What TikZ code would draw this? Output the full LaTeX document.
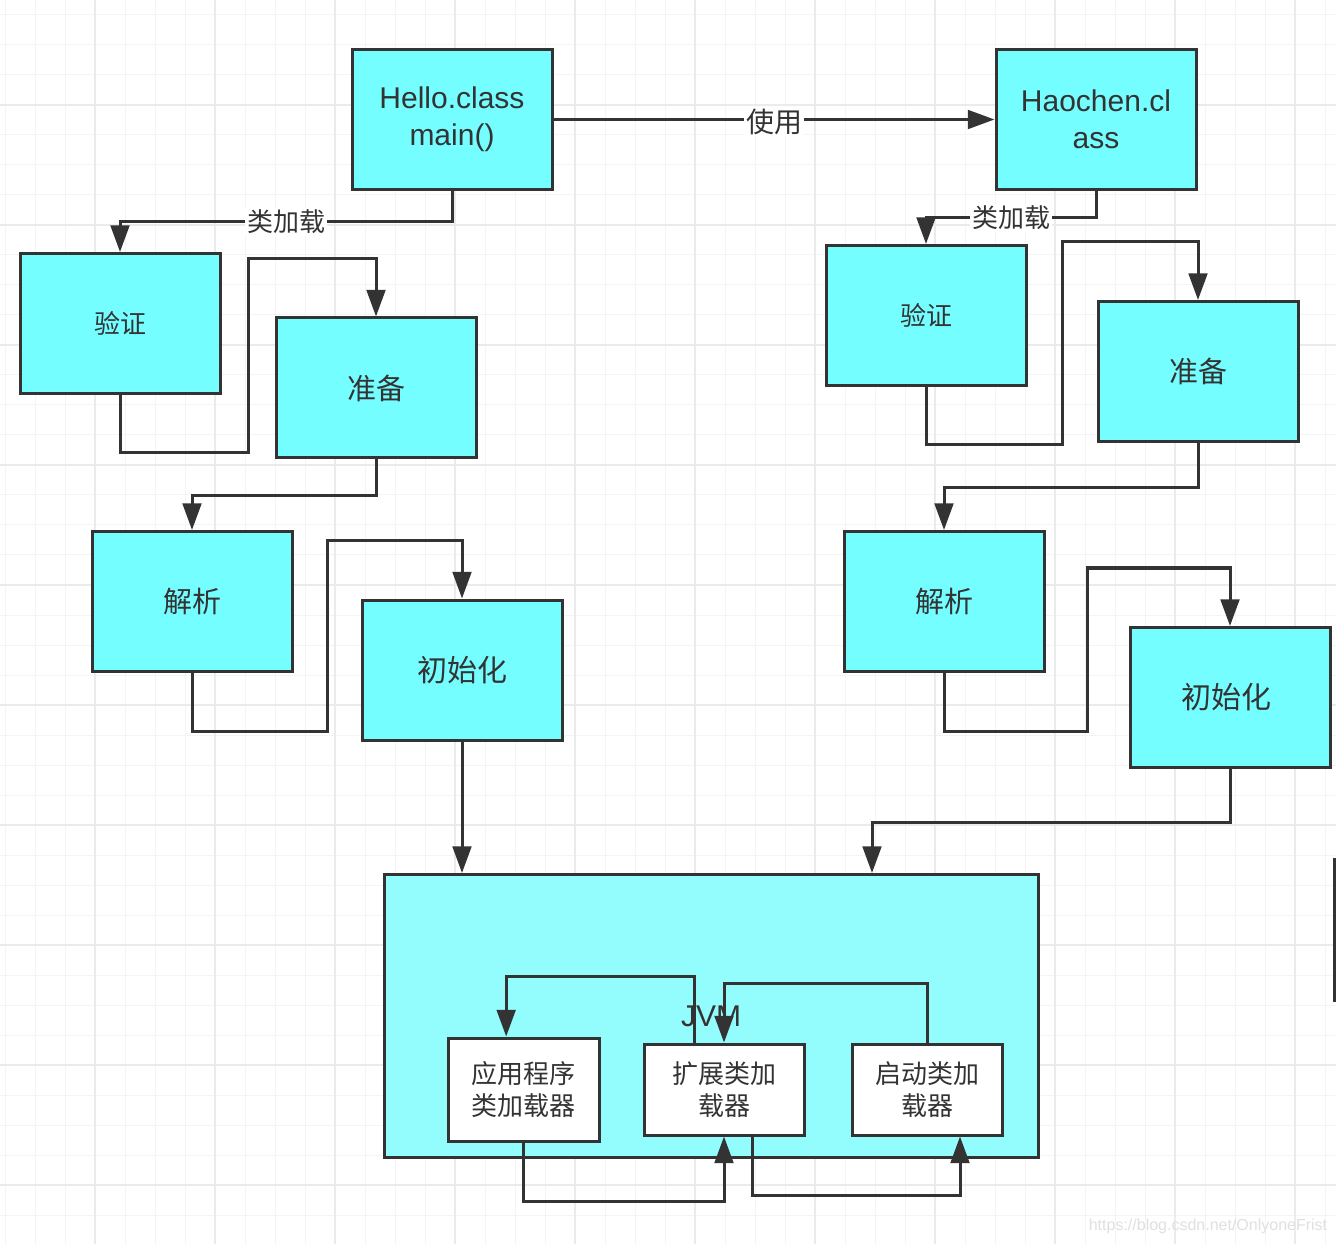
\documentclass[tikz,border=0pt]{standalone}
\usepackage{fontspec}
\setmainfont{Liberation Sans}
\newfontfamily\cjk{Noto Sans CJK SC}
\usepackage{tikz}
\usetikzlibrary{arrows.meta}
\usetikzlibrary{positioning}

\definecolor{linegray}{HTML}{333333}
\definecolor{boxcyan}{HTML}{74FEFF}
\definecolor{jvmcyan}{HTML}{93FCFD}
\definecolor{gridminor}{HTML}{F4F4F4}
\definecolor{gridmajor}{HTML}{EBEBEB}

\begin{document}
\begin{tikzpicture}[
        x=0.75pt, y=-0.75pt,
        >={Triangle[length=20pt, width=14pt]},
        stage/.style={draw=linegray, line width=2.25pt, fill=boxcyan, minimum width=150pt, minimum height=105pt, inner sep=0pt, align=center, text=linegray},
        loader/.style={draw=linegray, line width=2.25pt, fill=white, minimum height=68.25pt, inner sep=0pt, align=center, text=linegray, font=\cjk\fontsize{19.5}{24}\selectfont},
        latin/.style={font=\fontsize{22.5}{27.75}\selectfont},
        zhfont/.style={font=\cjk\fontsize{#1}{28}\selectfont},
        link/.style={->, draw=linegray, line width=2.25pt},
        tag/.style={fill=white, inner sep=1.5pt, text=linegray}
    ]
        % 背景网格
        \fill[white] (0,0) rectangle (1336,1244);
        \useasboundingbox (0,0) rectangle (1336,1244);
        \foreach \x in {5,35,...,1335} {
            \draw[gridminor, line width=0.75pt] (\x,0) -- (\x,1244);
        }
        \foreach \y in {15,45,...,1244} {
            \draw[gridminor, line width=0.75pt] (0,\y) -- (1336,\y);
        }
        \foreach \x in {95,215,...,1336} {
            \draw[gridmajor, line width=0.9pt] (\x,0) -- (\x,1244);
        }
        \foreach \y in {105,225,...,1244} {
            \draw[gridmajor, line width=0.9pt] (0,\y) -- (1336,\y);
        }

        % 两个类
        \node[stage, latin] (hello) at (452,119.5) {\raisebox{-3pt}{Hello.class}\\\raisebox{-3pt}{main()}};
        \node[stage, latin] (haochen) at (1096,119.5) {\raisebox{-1pt}{Haochen.cl}\\\raisebox{-1pt}{ass}};

        % 类加载的各个阶段
        \foreach \name/\x/\y/\fs/\txt in {
            yzL/120/323.5/19.5/验证,
            zbL/376/388/21.75/准备,
            jxL/192/601.5/21.75/解析,
            cshL/462/670/22.5/初始化,
            yzR/926/315.5/19.5/验证,
            zbR/1198/371.5/21.75/准备,
            jxR/944/601.5/21.75/解析,
            cshR/1230/697.5/22.5/初始化
        } {
            \node[stage, zhfont=\fs] (\name) at (\x,\y) {\txt};
        }

        % JVM 与三个类加载器
        \node[draw=linegray, line width=2.25pt, fill=jvmcyan, minimum width=490.5pt, minimum height=212.25pt, text=linegray, font=\fontsize{22.5}{27}\selectfont] (jvm) at (711,1016) {JVM};
        \node[loader, minimum width=113.25pt, minimum height=77.25pt] (yyjz) at (523.5,1089.5) {应用程序\\类加载器};
        \node[loader, minimum width=120pt] (kzjz) at (724,1089.5) {扩展类加\\载器};
        \node[loader, minimum width=112.5pt] (qdjz) at (927,1089.5) {启动类加\\载器};

        % 连线
        \draw[link] (hello.east) -- node[tag, zhfont=21, yshift=-1.5pt] {使用} (haochen.west);

        \draw[link] (hello.south) -- ++(0,31) -| node[tag, zhfont=19.5, pos=0.25] {类加载} (yzL.north);
        \draw[link] (yzL.south) |- (248,453) -- (248,259) -| (zbL.north);
        \draw[link] (zbL.south) -- ++(0,36) -| (jxL.north);
        \draw[link] (jxL.south) |- (327,731) -- (327,541) -| (cshL.north);
        \draw[link] (cshL.south) -- (cshL.south |- jvm.north);

        \draw[link] (haochen.south) -- ++(0,27) -| node[tag, zhfont=19.5, pos=0.25] {类加载} (yzR.north);
        \draw[link] (yzR.south) |- (1062,445) -- (1062,242) -| (zbR.north);
        \draw[link] (zbR.south) -- ++(0,45) -| (jxR.north);
        \draw[link] (jxR.south) |- (1087,731) -- (1087,568) -| (cshR.north);
        \draw[link] (cshR.south) -- ++(0,53) -| ([xshift=120.75pt]jvm.north);

        % 双亲委派
        \draw[link] ([xshift=-22.5pt]kzjz.north) -- ++(0,-66) -| ([xshift=-13pt]yyjz.north);
        \draw[link] (qdjz.north) -- ++(0,-59) -| (kzjz.north);
        \draw[link] (yyjz.south) -- ++(0,59) -| (kzjz.south);
        \draw[link] ([xshift=21pt]kzjz.south) -- ++(0,59) -| ([xshift=24.75pt]qdjz.south);

        % 右侧被截断的图形边
        \draw[linegray, line width=2.25pt] (1334,858) -- (1334,1002);

        \node[text=black!12, font=\fontsize{12}{14}\selectfont] (wm) at (1208,1226) {https://blog.csdn.net/OnlyoneFrist};
    \end{tikzpicture}
\end{document}
